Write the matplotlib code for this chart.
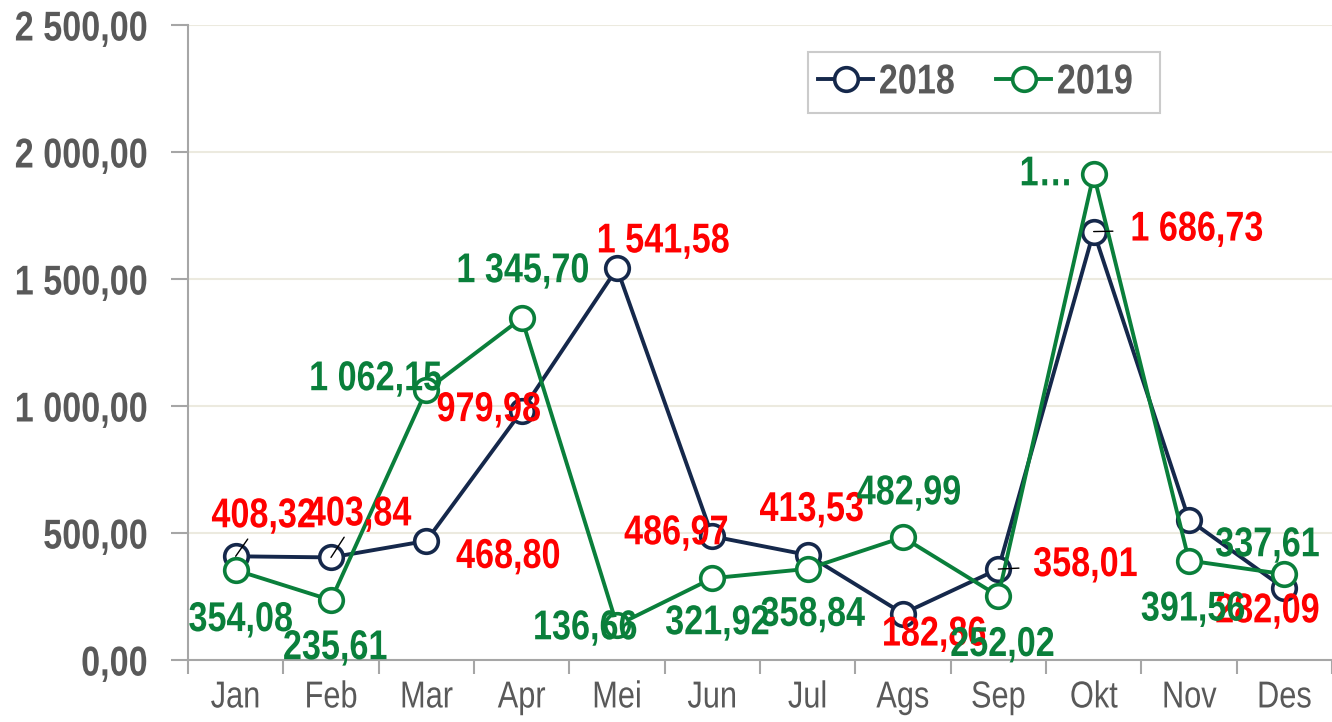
import matplotlib
matplotlib.use('Agg')
import matplotlib.pyplot as plt
from matplotlib import font_manager
from matplotlib.patheffects import AbstractPathEffect
from matplotlib.transforms import Affine2D
import numpy as np

# data
months = ['Jan', 'Feb', 'Mar', 'Apr', 'Mei', 'Jun', 'Jul', 'Ags', 'Sep', 'Okt', 'Nov', 'Des']
y2018 = [408.32, 403.84, 468.80, 979.98, 1541.58, 486.97, 413.53, 182.86, 358.01, 1686.73, 552.00, 282.09]
y2019 = [354.08, 235.61, 1062.15, 1345.70, 136.66, 321.92, 358.84, 482.99, 252.02, 1912.00, 391.56, 337.61]
hide2018 = [10]          # Nov 2018 has no label
short2019 = {9: '1…'}    # Okt 2019 label is cut off in the original
yticks = [0, 500, 1000, 1500, 2000, 2500]

# label offsets in pixels (dx, dy up)
off2018 = [(28, 40), (28, 43), (82, -16), (-33, 1), (46, 27), (-36, 3),
           (4, 45), (31, -21), (87, 4), (103, 2), (0, 0), (-17, -23)]
off2019 = [(5, -50), (4, -48), (-51, 11), (1, 47), (-32, -3), (5, -45),
           (5, -46), (6, 44), (4, -49), (-20, 0), (4, -49), (-17, 29)]
leader2018 = [0, 1, 8, 9]

names = {f.name for f in font_manager.fontManager.ttflist}
narrow = 'Liberation Sans Narrow' in names
fam = ['Liberation Sans Narrow' if narrow else 'Liberation Sans', 'DejaVu Sans']
plt.rcParams['font.family'] = fam
SX = 1.0 if narrow else 0.82   # fake Arial Narrow by squeezing Arial-metric glyphs


class Squeeze(AbstractPathEffect):
    # squeeze glyphs horizontally, keeping the aligned edge/centre in place
    def __init__(self, sx, anchor='center'):
        super().__init__()
        self.sx = sx
        self.anchor = anchor

    def draw_path(self, renderer, gc, tpath, affine, rgbFace=None):
        ext = tpath.get_extents()
        if self.anchor == 'left':
            c = 0.0
        elif self.anchor == 'right':
            c = ext.x1
        else:
            c = (ext.x0 + ext.x1) / 2
        t = Affine2D().translate(-c, 0).scale(self.sx, 1).translate(c, 0)
        renderer.draw_path(gc, tpath, t + affine, rgbFace)


navy = '#15284B'
green = '#0A7F3B'
red = '#FF0000'
grey = '#595959'


def fmt(v):
    s = f'{v:,.2f}'
    return s.replace(',', ' ').replace('.', ',')


fig = plt.figure(figsize=(13.32, 7.22), dpi=100)
ax = fig.add_axes([188 / 1332, 62 / 722, 1 - 188 / 1332, 635 / 722])
x = np.arange(len(months))

ax.plot(x, y2018, color=navy, lw=2.8, marker='o', ms=17, mfc='white', mec=navy, mew=2.6, zorder=3, label='2018')
ax.plot(x, y2019, color=green, lw=2.8, marker='o', ms=17, mfc='white', mec=green, mew=2.6, zorder=3, label='2019')

px = 0.72  # pixel -> points
for i, v in enumerate(y2018):
    if i in hide2018:
        continue
    dx, dy = off2018[i]
    ap = dict(arrowstyle='-', color='black', lw=1, shrinkA=0, shrinkB=0) if i in leader2018 else None
    ax.annotate(fmt(v), (x[i], v), xytext=(dx * px, dy * px), textcoords='offset points',
                ha='center', va='center', color=red, fontsize=30, fontweight='bold',
                arrowprops=ap, zorder=5, path_effects=[Squeeze(SX)])
for i, v in enumerate(y2019):
    dx, dy = off2019[i]
    txt = short2019.get(i, fmt(v))
    ha = 'right' if i in short2019 else 'center'
    ax.annotate(txt, (x[i], v), xytext=(dx * px, dy * px), textcoords='offset points',
                ha=ha, va='center', color=green, fontsize=30, fontweight='bold', zorder=5,
                path_effects=[Squeeze(SX, ha)])

ax.set_xlim(-0.5, -0.5 + 1144 / 95.8)
ax.set_ylim(0, 2500)
ax.set_yticks(yticks)
ax.set_yticklabels([fmt(t) for t in yticks], fontsize=30, fontweight='bold', color=grey)
ax.set_xticks(x)
ax.set_xticklabels(months, fontsize=27, color=grey)
ax.set_xticks(np.arange(-0.5, 12, 1), minor=True)
ax.tick_params(axis='x', which='major', length=0, pad=14)
ax.tick_params(axis='x', which='minor', length=10, color='#A6A6A6', width=1.5)
ax.tick_params(axis='y', length=12, color='#A6A6A6', width=1.5, pad=17)
for t in ax.get_yticklabels():
    t.set_path_effects([Squeeze(SX, 'right')])
for t in ax.get_xticklabels():
    t.set_path_effects([Squeeze(SX)])

ax.grid(axis='y', color='#ECEADF', lw=1.5, zorder=0)
for s in ['top', 'right']:
    ax.spines[s].set_visible(False)
for s in ['left', 'bottom']:
    ax.spines[s].set_color('#A6A6A6')
    ax.spines[s].set_linewidth(1.5)

leg = ax.legend(loc='upper left', bbox_to_anchor=((808 - 188) / 1144, 1 - (52 - 25) / 635), ncol=2,
                prop={'size': 30, 'weight': 'bold'}, frameon=True, fancybox=False, borderaxespad=0,
                handlelength=1.3, handletextpad=0.15, columnspacing=0.6, borderpad=0.25)
leg.get_frame().set_edgecolor('#BFBFBF')
leg.get_frame().set_linewidth(1.5)
for t in leg.get_texts():
    t.set_color(grey)
    t.set_path_effects([Squeeze(SX, 'left')])

fig.savefig('out.png', dpi=100)
